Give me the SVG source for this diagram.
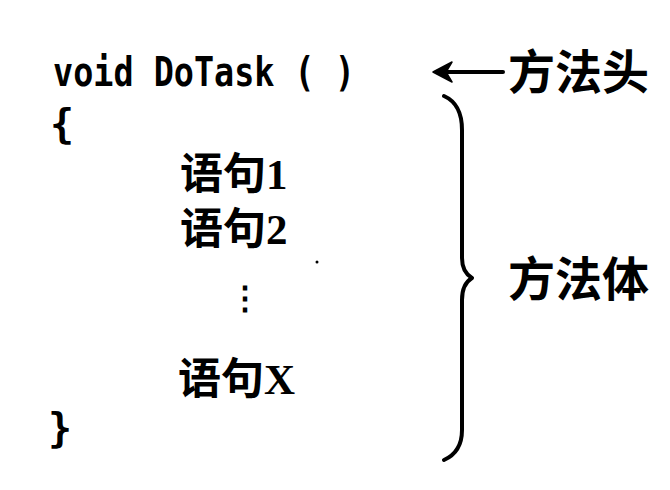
<svg xmlns="http://www.w3.org/2000/svg" width="670" height="490" viewBox="0 0 670 490">
<style>
.code{font-family:"DejaVu Sans Mono","Liberation Mono",monospace;font-weight:bold;fill:#000}
.cjk{font-family:"Liberation Serif","Noto Sans CJK SC",serif;font-weight:bold;fill:#000}
.lbl{font-family:"Noto Sans CJK SC",sans-serif;font-weight:bold;fill:#000}
.ln{fill:none;stroke:#000;stroke-width:4;stroke-linecap:round;stroke-linejoin:round}
</style>
<rect width="670" height="490" fill="#fff"/>
<g id="code">
<text class="code" x="53" y="86" font-size="40" textLength="302" lengthAdjust="spacingAndGlyphs">void DoTask ( )</text>
<text class="code" x="50" y="138" font-size="40">{</text>
<text class="code" x="48" y="442" font-size="40">}</text>
</g>
<g id="stmts">
<text class="cjk" x="180" y="189" font-size="43">语句1</text>
<text class="cjk" x="180" y="244" font-size="43">语句2</text>
<text class="cjk" x="229" y="309" font-size="32" font-family="DejaVu Sans">⋮</text>
<text class="cjk" x="178" y="394" font-size="43">语句X</text>
<circle cx="317" cy="262" r="1.5" fill="#000"/>
</g>
<g id="head-label">
<text class="lbl" x="508" y="89" font-size="47">方法头</text>
</g>
<g id="body-label">
<text class="lbl" x="508" y="296" font-size="47">方法体</text>
</g>
<g id="connectors">
<path class="ln" d="M503,72 L438,72" stroke-width="3.5"/>
<path d="M433,72 L452,62 L446,72 L452,82 Z" fill="#000" stroke="#000" stroke-width="1.5" stroke-linejoin="round"/>
<path class="ln" d="M444,96 Q462,104 462,130 L462,258 Q462,272 472,278 Q462,284 462,300 L462,430 Q462,452 444,460"/>
</g>
</svg>
